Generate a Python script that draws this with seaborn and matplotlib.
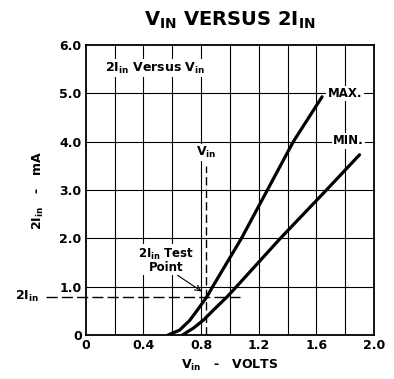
import matplotlib
matplotlib.use('Agg')
from matplotlib import pyplot as plt
import numpy as np
import pandas as pd
import seaborn as sns

# curve readings (volts, mA)
max_v = [0.57, 0.65, 0.72, 0.77, 0.84, 0.88, 1.08, 1.26, 1.44, 1.64]
max_i = [0.0, 0.1, 0.3, 0.5, 0.79, 1.0, 2.0, 3.0, 4.0, 4.93]
min_v = [0.67, 0.75, 0.82, 0.88, 0.98, 1.03, 1.35, 1.67, 1.90]
min_i = [0.0, 0.15, 0.32, 0.5, 0.79, 0.95, 2.0, 3.0, 3.73]

test_v = 0.835
test_i = 0.79
xticks = [0, 0.4, 0.8, 1.2, 1.6, 2.0]
xtick_labels = ['0', '0.4', '0.8', '1.2', '1.6', '2.0']
yticks = [0, 1, 2, 3, 4, 5, 6]
ytick_labels = ['0', '1.0', '2.0', '3.0', '4.0', '5.0', '6.0']

df = pd.concat([
    pd.DataFrame({'v': max_v, 'i': max_i, 'curve': 'MAX.'}),
    pd.DataFrame({'v': min_v, 'i': min_i, 'curve': 'MIN.'}),
])

sns.set_style('white')
plt.rcParams['font.family'] = ['Liberation Sans Narrow', 'DejaVu Sans']
plt.rcParams['font.weight'] = 'bold'
plt.rcParams['mathtext.default'] = 'regular'
for k in ['text.color', 'axes.labelcolor', 'xtick.color', 'ytick.color']:
    plt.rcParams[k] = 'black'

fig = plt.figure(figsize=(3.94, 3.79), dpi=100)
ax = fig.add_axes([0.218, 0.116, 0.731, 0.765])

# grid
for gx in np.arange(0.2, 2.0, 0.2):
    ax.axvline(gx, color='black', lw=0.8, zorder=1)
for gy in range(1, 6):
    ax.axhline(gy, color='black', lw=0.8, zorder=1)

sns.lineplot(data=df, x='v', y='i', units='curve', estimator=None, sort=False,
             color='black', lw=2.3, ax=ax, zorder=3)

# test point dashes
ax.plot([test_v, test_v], [0, 3.5], color='black', lw=1.0, dashes=(6, 3), zorder=2)
ax.plot([-0.28, 1.07], [test_i, test_i], color='black', lw=1.0, dashes=(8, 3),
        clip_on=False, zorder=2)

ax.set_xlim(0, 2.0)
ax.set_ylim(0, 6.0)
ax.set_xticks(xticks)
ax.set_xticklabels(xtick_labels, fontsize=9, fontweight='bold')
ax.set_yticks(yticks)
ax.set_yticklabels(ytick_labels, fontsize=9, fontweight='bold')
ax.tick_params(length=0, pad=3)
for s in ax.spines.values():
    s.set_color('black')
    s.set_linewidth(1.3)

ax.set_xlabel('V$_{in}$   -   VOLTS', fontsize=9, fontweight='bold', labelpad=4)
ax.set_ylabel('2I$_{in}$   -   mA', fontsize=9, fontweight='bold', labelpad=10)

box = dict(facecolor='white', edgecolor='none', pad=1)
ax.text(0.13, 5.45, '2I$_{in}$ Versus V$_{in}$', fontsize=9, bbox=box, zorder=4)
ax.text(1.68, 5.0, 'MAX.', fontsize=8.5, va='center', bbox=box, zorder=4)
ax.text(1.93, 4.02, 'MIN.', fontsize=8.5, va='center', ha='right', bbox=box, zorder=4)
ax.text(test_v, 3.62, 'V$_{in}$', fontsize=9, ha='center', va='bottom', bbox=box, zorder=4)
ax.text(0.56, 1.55, '2I$_{in}$ Test\nPoint', fontsize=8.5, ha='center', va='center',
        linespacing=0.9, bbox=box, zorder=4)
ax.annotate('', xy=(0.82, 0.87), xytext=(0.62, 1.27),
            arrowprops=dict(arrowstyle='->', color='black', lw=0.8))
ax.text(-0.49, test_i, '2I$_{in}$', fontsize=9, ha='left', va='center', clip_on=False)

fig.text(0.584, 0.945, 'V$_{IN}$ VERSUS 2I$_{IN}$', fontsize=14, fontweight='bold',
         ha='center', va='center')

fig.savefig('out.png', dpi=100, facecolor='white')
